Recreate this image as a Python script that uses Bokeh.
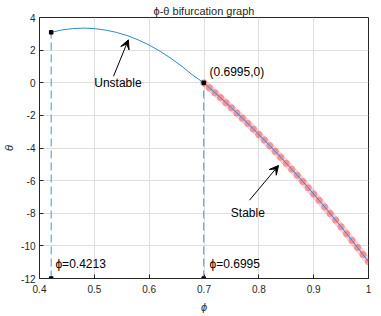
from bokeh.plotting import figure
from bokeh.models import (Range1d, FixedTicker, Label, Arrow, VeeHead)
from bokeh.embed import file_html
from bokeh.resources import INLINE

# ---------------- data ----------------
phi_unstable = [0.4213, 0.44, 0.46, 0.48, 0.50, 0.52, 0.54, 0.56, 0.58, 0.60,
                0.62, 0.64, 0.66, 0.68, 0.6995]
theta_unstable = [3.09, 3.23, 3.32, 3.35, 3.32, 3.23, 3.09, 2.89, 2.63, 2.31,
                  1.93, 1.49, 1.00, 0.45, 0.0]

phi_stable = [0.6995, 0.71, 0.72, 0.73, 0.74, 0.75, 0.76, 0.77, 0.78, 0.79,
              0.80, 0.81, 0.82, 0.83, 0.84, 0.85, 0.86, 0.87, 0.88, 0.89,
              0.90, 0.91, 0.92, 0.93, 0.94, 0.95, 0.96, 0.97, 0.98, 0.99, 1.00]
theta_stable = [0.0, -0.31, -0.61, -0.91, -1.22, -1.53, -1.85, -2.17, -2.50, -2.83,
                -3.17, -3.51, -3.86, -4.21, -4.57, -4.93, -5.30, -5.67, -6.05, -6.43,
                -6.82, -7.21, -7.61, -8.01, -8.42, -8.83, -9.25, -9.67, -10.10, -10.53, -10.97]

phi_marks = [0.4213, 0.6995]
theta_top = [3.09, 0.0]
theta_floor = [-12, -12]

x_ticks = [0.4, 0.5, 0.6, 0.7, 0.8, 0.9, 1]
x_tick_labels = ["0.4", "0.5", "0.6", "0.7", "0.8", "0.9", "1"]
y_ticks = [-12, -10, -8, -6, -4, -2, 0, 2, 4]
y_tick_labels = ["-12", "-10", "-8", "-6", "-4", "-2", "0", "2", "4"]

title_text = "ϕ-θ bifurcation graph"
x_label = "ϕ"
y_label = "θ"

FONT = "Liberation Sans"
AX = "#262626"
BLUE = "#2b8ad3"
DASH_BLUE = "#3a98de"
RED = "#ff2a3a"

p = figure(frame_width=329, frame_height=261,
           x_range=Range1d(0.4, 1.0), y_range=Range1d(-12, 4),
           output_backend="svg", toolbar_location=None, title=title_text,
           min_border_left=30, min_border_right=6, min_border_top=17, min_border_bottom=30)
p.background_fill_color = "white"
p.border_fill_color = "white"
p.outline_line_color = AX
p.outline_line_width = 1

p.title.text_font = FONT
p.title.text_font_size = "11px"
p.title.text_font_style = "normal"
p.title.text_color = AX
p.title.align = "center"
p.title.standoff = 2

for ax, ticks, labels in ((p.xaxis[0], x_ticks, x_tick_labels), (p.yaxis[0], y_ticks, y_tick_labels)):
    ax.ticker = FixedTicker(ticks=ticks)
    ax.major_label_overrides = {t: l for t, l in zip(ticks, labels)}
    ax.axis_line_color = AX
    ax.major_tick_line_color = AX
    ax.major_tick_in = 4
    ax.major_tick_out = 0
    ax.minor_tick_line_color = None
    ax.major_label_text_font = FONT
    ax.major_label_text_font_size = "10px"
    ax.major_label_text_color = AX
    ax.axis_label_text_font = FONT
    ax.axis_label_text_font_size = "11px"
    ax.axis_label_text_font_style = "italic"
    ax.axis_label_text_color = AX

p.xaxis.axis_label = x_label
p.yaxis.axis_label = y_label
p.xaxis.major_label_standoff = 6
p.xaxis.axis_label_standoff = 5
p.yaxis.major_label_standoff = 4
p.yaxis.axis_label_standoff = 3

p.xgrid.ticker = FixedTicker(ticks=x_ticks)
p.ygrid.ticker = FixedTicker(ticks=y_ticks)
p.grid.grid_line_color = "#dfdfdf"
p.grid.grid_line_width = 1

# dashed verticals
for xv, yt, yb in zip(phi_marks, theta_top, theta_floor):
    p.line([xv, xv], [yb, yt], line_color=DASH_BLUE, line_width=1, line_dash="8 4")

# stable branch (red translucent band + markers)
p.line(phi_stable, theta_stable, line_color=RED, line_alpha=0.22, line_width=7)
p.scatter(phi_stable, theta_stable, marker="circle", size=7,
          fill_color="#e84855", fill_alpha=0.45, line_color=None)
p.line(phi_stable, theta_stable, line_color=BLUE, line_width=1)

# unstable branch
p.line(phi_unstable, theta_unstable, line_color=BLUE, line_width=1)

# black squares
p.scatter(phi_marks, theta_top, marker="square", size=3.5, color="black")
p.scatter(phi_marks, theta_floor, marker="square", size=3.5, color="black")

def lab(x, y, t, align="left", base="middle"):
    p.add_layout(Label(x=x, y=y, text=t, text_font=FONT, text_font_size="12px",
                       text_color="black", text_align=align, text_baseline=base))

lab(0.543, 0.0, "Unstable", align="center")
lab(0.780, -8.0, "Stable", align="center")
lab(0.710, 0.63, "(0.6995,0)")
lab(0.429, -11.1, "ϕ=0.4213")
lab(0.710, -11.1, "ϕ=0.6995")

p.add_layout(Arrow(x_start=0.535, y_start=0.4, x_end=0.562, y_end=2.63,
                   line_color="black", line_width=1,
                   end=VeeHead(size=9, fill_color="black", line_color="black")))
p.add_layout(Arrow(x_start=0.783, y_start=-7.2, x_end=0.836, y_end=-5.07,
                   line_color="black", line_width=1,
                   end=VeeHead(size=9, fill_color="black", line_color="black")))

open("out.html", "w").write(file_html(p, INLINE))
